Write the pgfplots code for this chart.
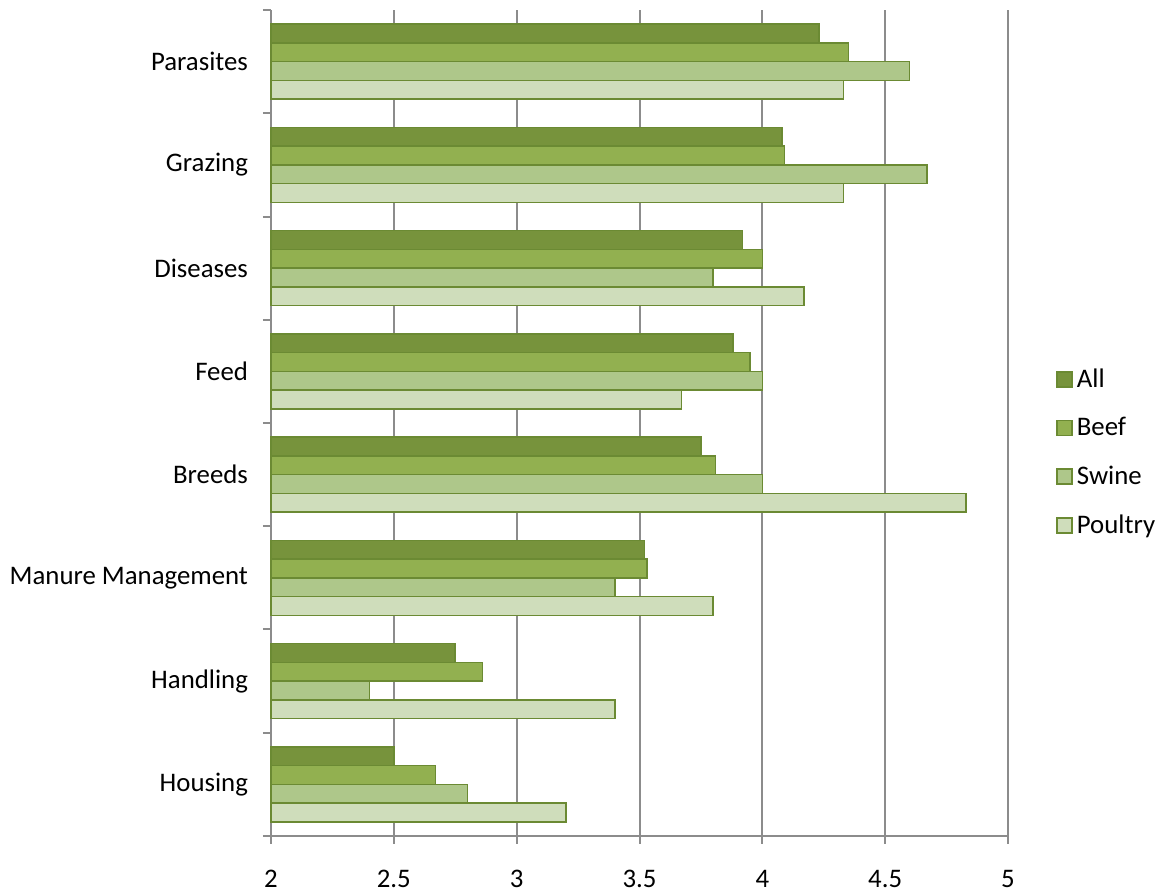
\documentclass[border=0pt]{standalone}
\usepackage{pgfplots}
\pgfplotsset{compat=1.18}
\usepackage{fontspec}
\setmainfont{Carlito}
\definecolor{cAll}{HTML}{77933C}
\definecolor{cBeef}{HTML}{92B050}
\definecolor{cSwine}{HTML}{AEC78A}
\definecolor{cPoultry}{HTML}{CFDDBB}
\definecolor{cEdge}{HTML}{6B8A33}
\definecolor{cGrid}{HTML}{8C8C8C}
\begin{document}
\begin{tikzpicture}
\path[use as bounding box] (-135.5pt,-28.5pt) rectangle (445.5pt,418pt);
\begin{axis}[
  at={(0,0)}, anchor=south west,
  scale only axis, width=368.5pt, height=413pt,
  font=\fontsize{13.4pt}{16pt}\selectfont,
  /pgf/number format/assume math mode=true,
  xmin=2, xmax=5, ymin=-0.5, ymax=7.5,
  xtick={2,2.5,...,5},
  ytick={0,...,7},
  yticklabels={Housing,Handling,Manure Management,Breeds,Feed,Diseases,Grazing,Parasites},
  minor ytick={-0.5,0.5,...,7.5},
  axis lines*=left,
  axis line style={cGrid, line width=1pt},
  tick align=outside,
  major tick length=4pt, minor tick length=4pt,
  tick style={cGrid, line width=1pt},
  major y tick style={draw=none},
  xmajorgrids, major grid style={cGrid, line width=1pt},
  yticklabel style={xshift=-4pt},
  xticklabel style={yshift=-9.5pt},
  xbar, bar width=9.375pt,
  clip=false,
  legend style={at={(1.057,0.576)}, anchor=north west, draw=none, fill=none,
    row sep=9.6pt, font=\fontsize{13.4pt}{16pt}\selectfont},
  legend cell align=left,
  legend image code/.code={\draw[#1, line width=0.75pt] (0pt,-3.75pt) rectangle (7.5pt,3.75pt);},
  every axis plot/.append style={draw=cEdge, line width=0.75pt},
]
\addplot[fill=cAll, bar shift=14.06pt] coordinates {
 (2.50,0) (2.75,1) (3.52,2) (3.75,3) (3.88,4) (3.92,5) (4.08,6) (4.23,7)};
\addplot[fill=cBeef, bar shift=4.69pt] coordinates {
 (2.67,0) (2.86,1) (3.53,2) (3.81,3) (3.95,4) (4.00,5) (4.09,6) (4.35,7)};
\addplot[fill=cSwine, bar shift=-4.69pt] coordinates {
 (2.80,0) (2.40,1) (3.40,2) (4.00,3) (4.00,4) (3.80,5) (4.67,6) (4.60,7)};
\addplot[fill=cPoultry, bar shift=-14.06pt] coordinates {
 (3.20,0) (3.40,1) (3.80,2) (4.83,3) (3.67,4) (4.17,5) (4.33,6) (4.33,7)};
\legend{All,Beef,Swine,Poultry}
\end{axis}
\end{tikzpicture}
\end{document}
